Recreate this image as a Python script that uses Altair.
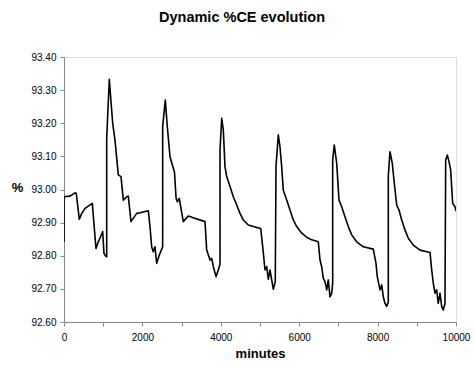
import altair as alt
import pandas as pd

minutes = [0, 0, 153, 281, 313, 391, 452, 536, 722, 816, 875, 918, 987, 1020, 1064, 1089, 1089,
           1156, 1242, 1301, 1385, 1454, 1513, 1599, 1640, 1709, 1855, 1939, 2150, 2194, 2236,
           2278, 2321, 2365, 2431, 2517, 2517, 2584, 2635, 2704, 2819, 2858, 2890, 2941, 3043,
           3171, 3299, 3597, 3640, 3725, 3768, 3810, 3878, 3936, 3980, 3980, 4023, 4064, 4107,
           4150, 4235, 4319, 4406, 4490, 4574, 4701, 4829, 5018, 5069, 5128, 5171, 5212, 5255,
           5339, 5390, 5408, 5467, 5510, 5553, 5594, 5681, 5765, 5850, 5936, 6064, 6191, 6319,
           6487, 6531, 6574, 6615, 6658, 6702, 6742, 6786, 6829, 6854, 6854, 6895, 6957, 7015,
           7084, 7168, 7253, 7339, 7467, 7635, 7890, 7959, 7992, 8061, 8105, 8145, 8189, 8230,
           8273, 8273, 8316, 8375, 8426, 8487, 8546, 8615, 8699, 8783, 8911, 9082, 9337, 9380,
           9421, 9464, 9507, 9547, 9592, 9635, 9676, 9719, 9737, 9778, 9821, 9864, 9915, 9974,
           10000]
ce = [92.842, 92.978, 92.980, 92.990, 92.988, 92.910, 92.928, 92.943, 92.958, 92.822, 92.842,
      92.853, 92.873, 92.807, 92.799, 92.797, 93.153, 93.333, 93.200, 93.149, 93.044, 93.039,
      92.968, 92.978, 92.980, 92.903, 92.928, 92.930, 92.936, 92.888, 92.827, 92.812, 92.827,
      92.777, 92.802, 92.827, 93.190, 93.270, 93.190, 93.099, 93.052, 92.975, 92.963, 92.973,
      92.903, 92.920, 92.915, 92.903, 92.817, 92.787, 92.792, 92.767, 92.737, 92.757, 92.775,
      93.119, 93.215, 93.180, 93.069, 93.039, 93.009, 92.978, 92.953, 92.928, 92.908, 92.893,
      92.888, 92.882, 92.827, 92.757, 92.767, 92.729, 92.757, 92.699, 92.722, 93.069, 93.165,
      93.129, 93.069, 92.998, 92.968, 92.938, 92.908, 92.888, 92.868, 92.856, 92.848, 92.842,
      92.787, 92.767, 92.732, 92.722, 92.697, 92.727, 92.676, 92.687, 92.717, 93.089, 93.134,
      93.079, 92.968, 92.948, 92.918, 92.888, 92.863, 92.842, 92.827, 92.820, 92.777, 92.737,
      92.697, 92.712, 92.676, 92.656, 92.647, 92.660, 93.040, 93.114, 93.079, 93.019, 92.953,
      92.938, 92.908, 92.878, 92.853, 92.832, 92.817, 92.810, 92.757, 92.717, 92.687, 92.697,
      92.656, 92.687, 92.647, 92.636, 92.656, 93.089, 93.104, 93.084, 93.059, 92.958, 92.948,
      92.935]

x_ticks = [0, 1000, 2000, 3000, 4000, 5000, 6000, 7000, 8000, 9000, 10000]
y_ticks = [92.6, 92.7, 92.8, 92.9, 93.0, 93.1, 93.2, 93.3, 93.4]

df = pd.DataFrame({"minutes": minutes, "ce": ce, "idx": list(range(len(minutes)))})

FONT = "Liberation Sans"
GRAY = "#868686"

chart = alt.Chart(df).mark_line(color="black", strokeWidth=1.6, clip=True,
                                strokeJoin="round").encode(
    x=alt.X("minutes:Q",
            scale=alt.Scale(domain=[0, 10000], nice=False),
            axis=alt.Axis(values=x_ticks, format="d",
                          labelExpr="datum.value % 2000 == 0 ? datum.label : ''",
                          title="minutes", titleFontWeight="bold", titleFontSize=13,
                          titleY=31, titleBaseline="middle",
                          tickSize=4, labelPadding=6, grid=False,
                          labelFlush=False, labelOverlap=False)),
    y=alt.Y("ce:Q",
            scale=alt.Scale(domain=[92.6, 93.4], nice=False, zero=False),
            axis=alt.Axis(values=y_ticks, format=".2f",
                          title="%", titleAngle=0, titleFontWeight="bold", titleFontSize=13,
                          titleX=-47, titleY=130, titleAlign="center", titleBaseline="middle",
                          tickSize=4, labelPadding=4, grid=False, labelOverlap=False)),
    order="idx:Q",
).properties(
    width=392, height=265,
    autosize=alt.AutoSizeParams(type="none"),
    padding={"left": 64, "top": 57, "right": 18, "bottom": 45},
    title=alt.TitleParams("Dynamic %CE evolution", fontSize=14.5, fontWeight="bold",
                          font=FONT, anchor="middle", dx=-18, offset=27, color="black"),
).configure_view(
    stroke=GRAY, strokeWidth=1
).configure_axis(
    labelFont=FONT, titleFont=FONT, labelFontSize=11, labelColor="black", titleColor="black",
    domainColor=GRAY, tickColor=GRAY, domainWidth=1, tickWidth=1
).configure(background="white")

chart.save("out.html", embed_options={"renderer": "svg", "actions": False})
